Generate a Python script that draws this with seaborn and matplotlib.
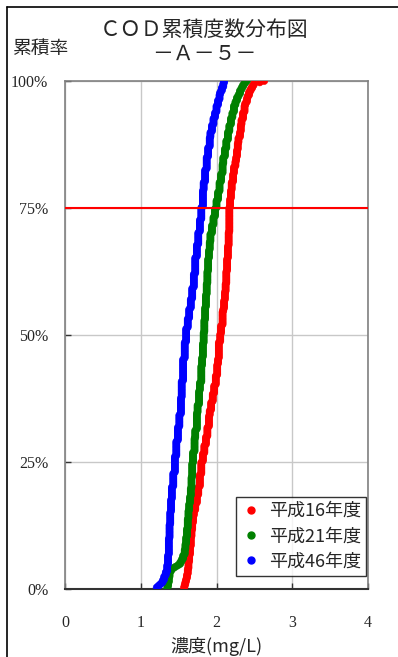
import numpy as np
import pandas as pd
import matplotlib
matplotlib.use("Agg")
import matplotlib.pyplot as plt
import seaborn as sns
from matplotlib.lines import Line2D

# Frequency tables: concentration (mg/L) and number of days at that value
years = ["平成16年度", "平成21年度", "平成46年度"]
colors = ["#ff0000", "#008000", "#0000ff"]

h16_conc = [1.57, 1.58, 1.59, 1.60, 1.61, 1.62, 1.63, 1.64, 1.65, 1.66,
            1.67, 1.68, 1.69, 1.70, 1.72, 1.74, 1.76, 1.78, 1.80, 1.82,
            1.84, 1.86, 1.88, 1.90, 1.91, 1.93, 1.95, 1.97, 1.99, 2.01,
            2.02, 2.03, 2.05, 2.06, 2.08, 2.09, 2.10, 2.11, 2.12, 2.13,
            2.14, 2.15, 2.16, 2.17, 2.18, 2.19, 2.20, 2.22, 2.23, 2.25,
            2.26, 2.27, 2.28, 2.29, 2.31, 2.32, 2.33, 2.35, 2.37, 2.38,
            2.40, 2.41, 2.43, 2.45, 2.47, 2.49, 2.57, 2.63]
h16_days = [1, 2, 2, 2, 3, 4, 5, 5, 6, 7,
            5, 5, 5, 4, 5, 6, 6, 9, 9, 6,
            6, 6, 7, 8, 4, 6, 6, 6, 7, 8,
            4, 12, 6, 6, 10, 2, 6, 6, 6, 9,
            9, 9, 10, 18, 6, 6, 6, 6, 5, 4,
            3, 5, 5, 4, 4, 5, 4, 5, 5, 2,
            3, 2, 3, 2, 2, 2, 1, 1]

h21_conc = [1.35, 1.36, 1.37, 1.38, 1.40, 1.43, 1.46, 1.49, 1.52, 1.54,
            1.56, 1.58, 1.59, 1.60, 1.61, 1.62, 1.63, 1.64, 1.65, 1.66,
            1.67, 1.68, 1.69, 1.71, 1.72, 1.74, 1.75, 1.77, 1.78, 1.80,
            1.81, 1.82, 1.83, 1.84, 1.85, 1.86, 1.87, 1.88, 1.89, 1.90,
            1.91, 1.92, 1.94, 1.96, 1.98, 2.00, 2.02, 2.04, 2.06, 2.08,
            2.09, 2.11, 2.13, 2.15, 2.17, 2.19, 2.21, 2.23, 2.25, 2.27,
            2.29, 2.31, 2.33, 2.35, 2.37, 2.38, 2.40]
h21_days = [1, 3, 4, 4, 2, 1, 1, 1, 2, 2,
            3, 4, 4, 5, 6, 7, 6, 5, 5, 6,
            8, 10, 8, 10, 6, 12, 6, 10, 6, 12,
            6, 10, 8, 9, 9, 9, 8, 9, 9, 6,
            6, 6, 6, 6, 6, 6, 6, 7, 6, 7,
            5, 6, 6, 6, 5, 5, 4, 5, 3, 3,
            2, 3, 2, 2, 1, 1, 1]

h46_conc = [1.21, 1.23, 1.25, 1.27, 1.29, 1.31, 1.33, 1.35, 1.36, 1.37,
            1.38, 1.39, 1.40, 1.41, 1.43, 1.45, 1.47, 1.49, 1.51, 1.53,
            1.54, 1.56, 1.58, 1.60, 1.62, 1.64, 1.66, 1.68, 1.70, 1.72,
            1.74, 1.76, 1.78, 1.80, 1.82, 1.83, 1.85, 1.87, 1.89, 1.91,
            1.92, 1.94, 1.96, 1.98, 2.00, 2.02, 2.04, 2.05, 2.07, 2.09,
            2.10]
h46_days = [1, 1, 1, 1, 2, 3, 3, 5, 7, 12,
            10, 9, 9, 9, 10, 12, 11, 10, 9, 12,
            12, 16, 12, 10, 7, 7, 7, 8, 10, 12,
            9, 9, 9, 9, 12, 6, 9, 9, 7, 7,
            4, 5, 5, 4, 5, 4, 4, 2, 3, 3,
            2]

x_ticks = [0, 1, 2, 3, 4]
y_ticks = [0, 25, 50, 75, 100]
y_tick_labels = ["0%", "25%", "50%", "75%", "100%"]
reference_rate = 75

# Cumulative rate of each day within its year, sorted by concentration
frames = []
for year, conc, days in zip(years,
                            [h16_conc, h21_conc, h46_conc],
                            [h16_days, h21_days, h46_days]):
    values = np.repeat(conc, days)
    n = len(values)
    rate = np.arange(1, n + 1) / n * 100
    frames.append(pd.DataFrame({"year": year, "conc": values, "rate": rate}))
df = pd.concat(frames, ignore_index=True)

sns.set_theme(style="white")
jp = ["Noto Sans CJK JP", "DejaVu Sans"]
num_font = ["Liberation Serif", "DejaVu Serif"]
plt.rcParams["font.family"] = jp

W, H = 398, 657
fig = plt.figure(figsize=(W / 100, H / 100), dpi=100)
ax = fig.add_axes([65 / W, 1 - 589 / H, 303 / W, 508 / H])

sns.scatterplot(data=df, x="conc", y="rate", hue="year", hue_order=years,
                palette=colors, s=26, linewidth=0.4, edgecolor=None,
                legend=False, ax=ax, zorder=3)

ax.axhline(reference_rate, color="#ff0000", lw=1.5, zorder=4)

ax.set_xlim(0, 4)
ax.set_ylim(0, 100)
ax.set_xticks(x_ticks)
ax.set_xticklabels([str(t) for t in x_ticks], family=num_font, fontsize=11.5)
ax.set_yticks(y_ticks)
ax.set_yticklabels(y_tick_labels, family=num_font, fontsize=11.5)
ax.tick_params(axis="x", direction="in", length=4, width=1, pad=19,
               color="#333333", bottom=True)
ax.tick_params(axis="y", direction="in", length=4, width=1, pad=12,
               color="#333333", left=True)

ax.grid(True, color="#c8c8c8", lw=1)
ax.set_axisbelow(True)
for side in ["top", "right"]:
    ax.spines[side].set_color("#808080")
    ax.spines[side].set_linewidth(1.2)
ax.spines["bottom"].set_color("#333333")
ax.spines["bottom"].set_linewidth(1.5)
ax.spines["left"].set_color("#808080")
ax.spines["left"].set_linewidth(1.2)

ax.set_xlabel("濃度(mg/L)", fontsize=13)
ax.xaxis.set_label_coords(0.5, (589 - 646) / 508)
ax.xaxis.label.set_va("center")

ax.set_ylabel("累積率", fontsize=13.5, rotation=0)
ax.yaxis.set_label_coords((12 - 65) / 303, (589 - 48) / 508)
ax.yaxis.label.set_ha("left")
ax.yaxis.label.set_va("center")

ax.set_title("ＣＯＤ累積度数分布図\n－Ａ－５－", fontsize=15,
             x=(204 - 65) / 303, y=(589 - 42) / 508, pad=0,
             va="center", linespacing=1.15)

handles = [Line2D([], [], marker="o", linestyle="", markersize=5,
                  markerfacecolor=c, markeredgecolor=c, label=y)
           for y, c in zip(years, colors)]
leg = ax.legend(handles=handles, loc="lower right",
                bbox_to_anchor=((366 - 65) / 303, (589 - 576) / 508),
                borderaxespad=0, fontsize=13, frameon=True, fancybox=False,
                handlelength=1.0, handletextpad=0.5, labelspacing=0.4,
                borderpad=0.3)
leg.get_frame().set_edgecolor("black")
leg.get_frame().set_linewidth(1.0)

# Outer chart frame (top and left edges)
fig.add_artist(Line2D([7 / W, 1], [1 - 7 / H, 1 - 7 / H],
                      transform=fig.transFigure, color="black", lw=1.2))
fig.add_artist(Line2D([7 / W, 7 / W], [0, 1 - 7 / H],
                      transform=fig.transFigure, color="black", lw=1.2))

fig.savefig("out.png", dpi=100)
